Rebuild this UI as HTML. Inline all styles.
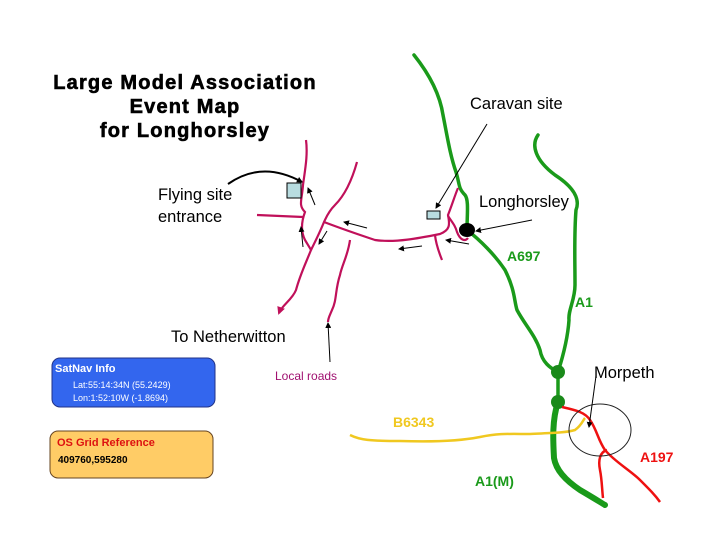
<!DOCTYPE html>
<html><head><style>
body{margin:0;background:#fff;}
svg{display:block;}
text{font-family:"Liberation Sans",sans-serif;}
</style></head><body>
<svg width="720" height="540" viewBox="0 0 720 540" xmlns="http://www.w3.org/2000/svg">
<defs>
<marker id="ah" markerWidth="6" markerHeight="6" refX="5" refY="3" orient="auto" markerUnits="userSpaceOnUse"><path d="M0,0 L6,3 L0,6 z" fill="#000"/></marker>
<marker id="am" markerWidth="8" markerHeight="8" refX="6" refY="4" orient="auto" markerUnits="userSpaceOnUse"><path d="M0,0 L8,4 L0,8 z" fill="#c0105a"/></marker>
</defs>
<g font-weight="900" font-size="20" text-anchor="middle" font-family="Liberation Sans" letter-spacing="1.2" stroke="#000" stroke-width="0.6">
<text x="185" y="89">Large Model Association</text>
<text x="185" y="113">Event Map</text>
<text x="185" y="137">for Longhorsley</text>
</g>
<g fill="none" stroke="#1a9a1a" stroke-width="3.5" stroke-linecap="round">
<path d="M414,55 C430,75 440,95 443,115 C447,135 450,155 456,172 C460,185 458,188 465,195 C469,200 467,215 467,230 C480,240 495,255 505,270 C515,290 514,300 517,310 C525,325 535,335 540,350 C542,362 550,368 558,372"/>
<path d="M538,135 C531,145 535,160 555,175 C575,188 580,200 576,210 C574,235 575,260 575,285 C575,300 568,310 569,320 C568,335 565,350 558,372"/>
<path d="M558,372 L558,402"/>
</g>
<path d="M558,402 C552,420 553,440 554,458 C556,470 565,480 580,490 C592,497 600,502 605,505" fill="none" stroke="#1a9a1a" stroke-width="6" stroke-linecap="round"/>
<circle cx="558" cy="372" r="7" fill="#1a8a1a"/>
<circle cx="558" cy="402" r="7" fill="#1a8a1a"/>
<g fill="none" stroke="#ee1111" stroke-width="2.5">
<path d="M562,407 C575,410 585,412 590,420 C597,430 598,440 605,450 C615,462 630,470 640,480 C650,490 655,495 660,502"/>
<path d="M607,450 C600,452 598,460 600,470 C602,480 602,490 603,498"/>
</g>
<path d="M350,435 C360,440 370,441 400,441 C430,442 460,441 480,437 C500,433 510,434 530,434 C550,433 565,433 575,430 C582,425 583,420 585,418" fill="none" stroke="#f0c820" stroke-width="2.5"/>
<ellipse cx="600" cy="430" rx="31" ry="26" fill="none" stroke="#222" stroke-width="1"/>
<line x1="596" y1="376" x2="589" y2="427" stroke="#000" stroke-width="1" marker-end="url(#ah)"/>
<g fill="none" stroke="#c0105a" stroke-width="2.2">
<path d="M306,140 C308,155 305,170 303,185 C302,200 298,205 305,212 C302,220 300,230 305,240 C308,245 310,248 311,250 C305,265 300,275 296,290 C292,300 282,305 279,313" marker-end="url(#am)"/>
<path d="M257,215 L303,217"/>
<path d="M357,162 C352,180 345,195 335,205 C328,212 326,218 324,222 C320,232 316,240 311,250"/>
<path d="M324,222 C345,230 360,235 375,240 C395,243 420,238 440,234 C450,230 450,225 448,215 C452,205 455,195 458,188"/>
<path d="M448,216 C452,222 455,225 457,232 C460,240 465,242 468,238"/>
<path d="M350,240 C348,255 342,265 340,275 C335,290 337,300 332,310 C330,315 328,318 328,322"/>
<path d="M435,235 C436,245 440,255 442,260"/>
</g>
<g stroke="#000" stroke-width="1" marker-end="url(#ah)">
<line x1="315" y1="205" x2="308" y2="188"/>
<line x1="303" y1="247" x2="301" y2="227"/>
<line x1="327" y1="231" x2="319" y2="244"/>
<line x1="367" y1="228" x2="344" y2="222"/>
<line x1="422" y1="246" x2="399" y2="249"/>
<line x1="469" y1="244" x2="446" y2="240"/>
<line x1="532" y1="220" x2="476" y2="231"/>
<line x1="487" y1="124" x2="436" y2="208"/>
<line x1="330" y1="362" x2="328" y2="323"/>
</g>
<path d="M228,184 Q262,160 302,182" fill="none" stroke="#000" stroke-width="2" marker-end="url(#ah)"/>
<ellipse cx="467" cy="230" rx="8" ry="7" fill="#000"/>
<rect x="287" y="183" width="14" height="15" fill="#b8dce0" stroke="#000" stroke-width="1"/>
<rect x="427" y="211" width="13" height="8" fill="#b8dce0" stroke="#000" stroke-width="1"/>
<g font-size="16.5" fill="#000">
<text x="158" y="200">Flying site</text>
<text x="158" y="222">entrance</text>
<text x="470" y="109">Caravan site</text>
<text x="479" y="207">Longhorsley</text>
<text x="171" y="342">To Netherwitton</text>
<text x="594" y="378">Morpeth</text>
</g>
<text x="275" y="380" font-size="12" fill="#a01070">Local roads</text>
<g font-size="14" font-weight="bold">
<text x="507" y="261" fill="#1a9a1a">A697</text>
<text x="575" y="307" fill="#1a9a1a">A1</text>
<text x="475" y="486" fill="#1a9a1a">A1(M)</text>
<text x="640" y="462" fill="#ee1111">A197</text>
<text x="393" y="427" fill="#f0c820">B6343</text>
</g>
<rect x="52" y="358" width="163" height="49" rx="8" fill="#3366ee" stroke="#223388" stroke-width="1"/>
<text x="55" y="372" font-size="11" font-weight="bold" fill="#fff">SatNav Info</text>
<text x="73" y="388" font-size="9" fill="#fff">Lat:55:14:34N (55.2429)</text>
<text x="73" y="401" font-size="9" fill="#fff">Lon:1:52:10W (-1.8694)</text>
<rect x="50" y="431" width="163" height="47" rx="8" fill="#ffcc66" stroke="#664422" stroke-width="1"/>
<text x="57" y="446" font-size="11" font-weight="bold" fill="#dd1111">OS Grid Reference</text>
<text x="58" y="463" font-size="10" font-weight="bold" fill="#000">409760,595280</text>
</svg>
</body></html>
